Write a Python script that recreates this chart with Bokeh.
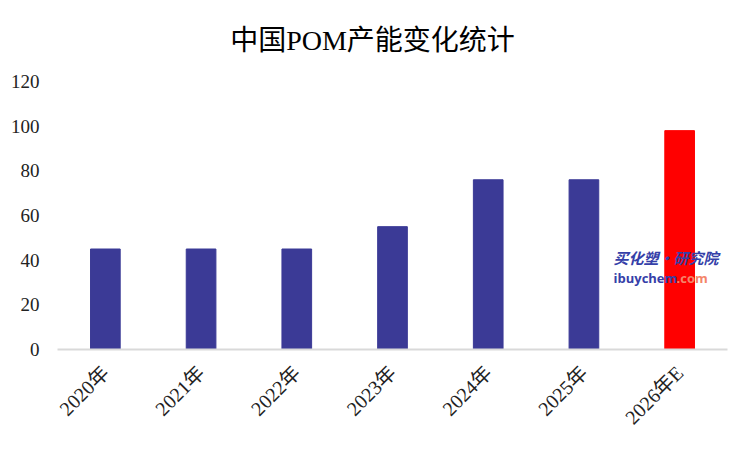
from bokeh.plotting import figure
from bokeh.models import ColumnDataSource, Range1d, FixedTicker, Label
from bokeh.embed import file_html
from bokeh.resources import INLINE
import math

years = ["2020年", "2021年", "2022年", "2023年", "2024年", "2025年", "2026年E"]
capacity = [45, 45, 45, 55, 76, 76, 98]
colors = ["#3B3A96"] * 6 + ["#FF0000"]
y_ticks = [0, 20, 40, 60, 80, 100, 120]

SERIF = "'Liberation Serif', 'Noto Sans CJK SC', serif"

src = ColumnDataSource(dict(x=years, top=capacity, color=colors))

# frame spans canvas y 20..349; 120 units = 268 px
p = figure(width=750, height=450, x_range=years, y_range=Range1d(0, 120 * 329 / 268),
           output_backend="svg", toolbar_location=None,
           min_border_left=57, min_border_right=23, min_border_top=20, min_border_bottom=101)
p.vbar(x="x", top="top", width=0.31, color="color", source=src)

p.outline_line_color = None
p.xgrid.grid_line_color = None
p.ygrid.grid_line_color = None
p.background_fill_color = "white"

p.yaxis.ticker = FixedTicker(ticks=y_ticks)
p.yaxis.axis_line_color = None
p.yaxis.major_tick_line_color = None
p.yaxis.minor_tick_line_color = None
p.yaxis.major_label_text_font = SERIF
p.yaxis.major_label_text_font_size = "19px"
p.yaxis.major_label_text_color = "#222222"
p.yaxis.major_label_standoff = 12

p.xaxis.axis_line_color = "#D9D9D9"
p.xaxis.axis_line_width = 2
p.xaxis.major_tick_line_color = None
p.xaxis.minor_tick_line_color = None
p.xaxis.major_label_orientation = math.pi / 4
p.xaxis.major_label_text_font = SERIF
p.xaxis.major_label_text_font_size = "20px"
p.xaxis.major_label_text_color = "#222222"
p.xaxis.major_label_standoff = 14

p.add_layout(Label(x=372 - 57, y=349 - 40, x_units="screen", y_units="screen",
                   text="中国POM产能变化统计", text_font=SERIF, text_font_size="28px",
                   text_align="center", text_baseline="middle", text_color="black"))
p.add_layout(Label(x=12 - 57, y=349 - 47, x_units="screen", y_units="screen",
                   text="万吨", text_font=SERIF, text_font_size="18px",
                   text_align="left", text_baseline="middle", text_color="#222222"))
p.add_layout(Label(x=613 - 57, y=349 - 257, x_units="screen", y_units="screen",
                   text="买化塑·研究院", text_font="'Noto Sans CJK SC'", text_font_size="15px",
                   text_font_style="bold italic",
                   text_align="left", text_baseline="middle", text_color="#3540A8"))
p.add_layout(Label(x=613 - 57, y=349 - 277, x_units="screen", y_units="screen",
                   text="ibuychem", text_font="'Open Sans'", text_font_size="13px",
                   text_font_style="bold",
                   text_align="left", text_baseline="middle", text_color="#3540A8"))
p.add_layout(Label(x=676 - 57, y=349 - 277, x_units="screen", y_units="screen",
                   text=".com", text_font="'Open Sans'", text_font_size="13px",
                   text_font_style="bold",
                   text_align="left", text_baseline="middle", text_color="#F4856A"))

open("out.html", "w").write(file_html(p, INLINE))
